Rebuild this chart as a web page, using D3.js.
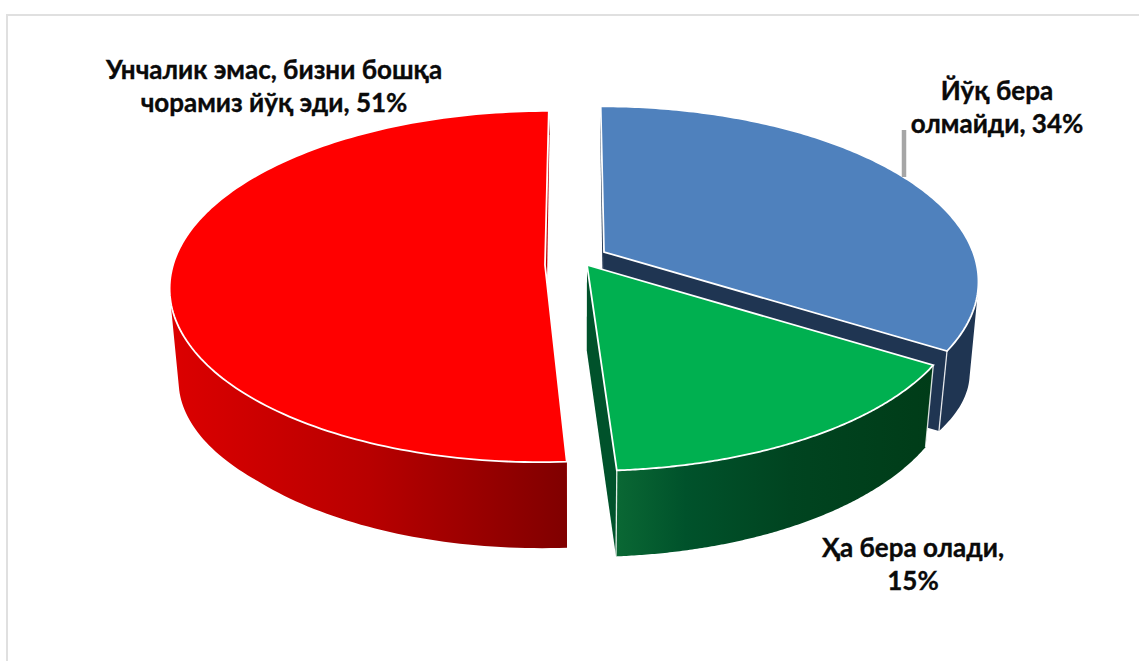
<!DOCTYPE html>
<html><head><meta charset="utf-8">
<script src="https://d3js.org/d3.v7.min.js"></script>
<style>html,body{margin:0;padding:0;background:#fff}svg{display:block}text{font-family:Lato,"Open Sans",sans-serif;font-weight:700;fill:#0a0a0a;stroke:#0a0a0a;stroke-width:.35px}</style>
</head><body><svg id="c" width="1139" height="661"></svg>
<script>
const categories = ["Йўқ бера олмайди", "Ҳа бера олади", "Унчалик эмас, бизни бошқа чорамиз йўқ эди"];
const values = [34, 15, 51];
const labelLines = [["Йўқ бера","олмайди, 34%"],["Ҳа бера олади,","15%"],["Унчалик эмас, бизни бошқа","чорамиз йўқ эди, 51%"]];
const topColors = ["#4f81bd","#00b050","#ff0000"];
const wallColors = ["#1f3552","#00522b","#c00000"];

const W=1139,H=661,vx=580,shrink=0.022;
// per-slice camera fit: apex on screen, radii, perspective, extrusion by depth in the plane
const fit=[
 {ax:604,ay:252,r:369,ry:169,k:.16,depth:d3.scaleLinear([-1,.16,.536],[27,92,80]),lab:[997,100]},
 {ax:587,ay:265,r:370,ry:169,k:.179,depth:d3.scaleLinear([0,.536,1],[86,82,86]),lab:[913,557]},
 {ax:545,ay:265,r:372,ry:173,k:.1225,depth:d3.scaleLinear([-1,.1,.7,1],[24,93,84,86]),lab:[274,79]}
];
const rimStops=[
 [["0%","#1f3552"],["100%","#1f3552"]],
 [["0%","#0a6834"],["22%","#00522b"],["55%","#004420"],["100%","#003c18"]],
 [["0%","#dc0000"],["50%","#b80000"],["100%","#800000"]]
];
const svg=d3.select("#c");
const arcs=d3.pie().sort(null).startAngle(0).endAngle(2*Math.PI)(values);
const line=d3.line();

function proj(f,a,rad,low){
  const X=Math.sin(a)*rad,Y=-Math.cos(a)*rad,s=1/(1-f.k*Y);
  let x=f.ax+f.r*X*s+(f.ax-vx)*(s-1), y=f.ay+f.ry*Y*s;
  if(low){x=vx+(x-vx)*(1-shrink); y+=f.depth(Y);}
  return [x,y];
}
const samples=(a0,a1)=>d3.range(0,161).map(i=>a0+(a1-a0)*i/160);

// frame
svg.append("path").attr("d",line([[7,H],[7,15],[W,15]])).attr("fill","none").attr("stroke","#e0e0e0").attr("stroke-width",2);

const defs=svg.append("defs");
const order=[0,2,1];
order.forEach(i=>{
  const f=fit[i],p=arcs[i];
  const angs=samples(p.startAngle,p.endAngle);
  const top=angs.map(a=>proj(f,a,1,false));
  const low=angs.map(a=>proj(f,a,1,true));
  const g=svg.append("g");
  const gid="rim"+i;
  const xs=d3.extent(top.concat(low),d=>d[0]);
  const grad=defs.append("linearGradient").attr("id",gid).attr("gradientUnits","userSpaceOnUse")
    .attr("x1",xs[0]).attr("x2",xs[1]).attr("y1",0).attr("y2",0);
  rimStops[i].forEach(s=>grad.append("stop").attr("offset",s[0]).attr("stop-color",s[1]));
  // walls
  [p.startAngle,p.endAngle].forEach(a=>{
    const w=[proj(f,a,0,false),proj(f,a,1,false),proj(f,a,1,true),proj(f,a,0,true)];
    g.append("path").attr("d",line(w)+"Z").attr("fill",wallColors[i]);
  });
  // rim: quads with one winding, so folds at the silhouette fill solidly
  const quads=d3.range(angs.length-1).map(j=>{
    const q=[top[j],top[j+1],low[j+1],low[j]];
    return line(d3.polygonArea(q)<0?q.slice().reverse():q)+"Z";
  }).join("");
  g.append("path").attr("d",quads).attr("fill",`url(#${gid})`).attr("fill-rule","nonzero");
  // seam lines
  [p.startAngle,p.endAngle].forEach(a=>{
    g.append("path").attr("d",line([proj(f,a,1,false),proj(f,a,1,true)]))
      .attr("stroke",i===2?"none":"#fff").attr("stroke-width",1.3).attr("fill","none").attr("opacity",(i===0&&a===p.startAngle)?0:.85);
  });
  // top face
  const face=[proj(f,p.startAngle,0,false)].concat(top);
  g.append("path").attr("d",line(face)+"Z").attr("fill",topColors[i]).attr("stroke","#fff").attr("stroke-width",1.8).attr("stroke-linejoin","miter");
});

// leader
svg.append("path").attr("d",line([[904,130],[904,177]])).attr("stroke","#a6a6a6").attr("stroke-width",4.5).attr("fill","none");

// labels
labelLines.forEach((ls,i)=>{
  ls.forEach((t,j)=>{
    svg.append("text").attr("x",fit[i].lab[0]).attr("y",fit[i].lab[1]+j*33)
      .attr("text-anchor","middle").attr("font-size",26).text(t);
  });
});
</script></body></html>
